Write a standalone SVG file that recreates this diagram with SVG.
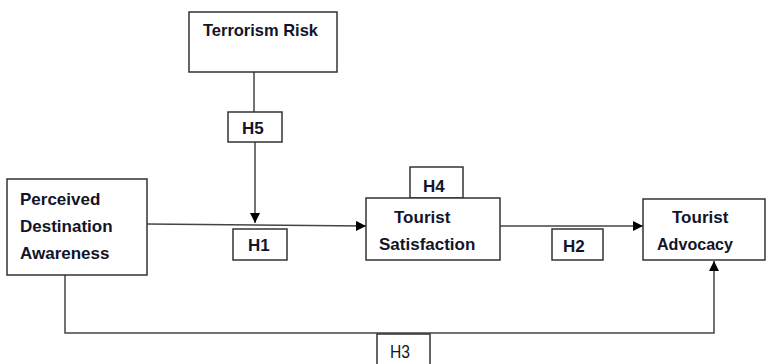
<svg xmlns="http://www.w3.org/2000/svg" width="767" height="364" viewBox="0 0 767 364">
<style>
.box{fill:#fff;stroke:#333;stroke-width:1.5}
.t{font-family:"Liberation Sans",Arial,sans-serif;font-weight:bold;font-size:17px;fill:#141428}
.h3{font-family:"Liberation Sans",Arial,sans-serif;font-size:18px;fill:#141428}
.ln{fill:none;stroke:#444;stroke-width:1.5}
</style>
<defs>
<marker id="arr" viewBox="0 0 10 10" refX="10" refY="5" markerWidth="10" markerHeight="10" markerUnits="userSpaceOnUse" orient="auto">
<path d="M0,0 L10,5 L0,10 Z" fill="#000"/>
</marker>
</defs>
<rect width="767" height="364" fill="#fff"/>
<g id="connectors">
<line class="ln" x1="254" y1="72" x2="254" y2="112"/>
<line class="ln" x1="255" y1="142" x2="255" y2="223" marker-end="url(#arr)"/>
<line class="ln" x1="147" y1="224" x2="366" y2="226" marker-end="url(#arr)"/>
<line class="ln" x1="500" y1="226" x2="643" y2="226" marker-end="url(#arr)"/>
<polyline class="ln" points="65,275 65,333 714,333 714,261" marker-end="url(#arr)"/>
</g>
<g id="terrorism-risk">
<rect class="box" x="189" y="12" width="148" height="60"/>
<text class="t" x="203" y="36" textLength="115" lengthAdjust="spacingAndGlyphs">Terrorism Risk</text>
</g>
<g id="h5">
<rect class="box" x="228" y="112" width="54" height="30"/>
<text class="t" x="242" y="134">H5</text>
</g>
<g id="perceived-destination-awareness">
<rect class="box" x="7" y="179" width="140" height="96"/>
<text class="t" x="20" y="205">Perceived</text>
<text class="t" x="20" y="232">Destination</text>
<text class="t" x="20" y="259">Awareness</text>
</g>
<g id="h1">
<rect class="box" x="233" y="229" width="54" height="31"/>
<text class="t" x="248" y="251">H1</text>
</g>
<g id="h4">
<rect class="box" x="410" y="167" width="53" height="31"/>
<text class="t" x="423" y="192">H4</text>
</g>
<g id="tourist-satisfaction">
<rect class="box" x="366" y="198" width="134" height="62"/>
<text class="t" x="394" y="223">Tourist</text>
<text class="t" x="379" y="250">Satisfaction</text>
</g>
<g id="h2">
<rect class="box" x="552" y="229" width="51" height="31"/>
<text class="t" x="563" y="252">H2</text>
</g>
<g id="tourist-advocacy">
<rect class="box" x="643" y="199" width="122" height="61"/>
<text class="t" x="672" y="223">Tourist</text>
<text class="t" x="657" y="250" textLength="76" lengthAdjust="spacingAndGlyphs">Advocacy</text>
</g>
<g id="h3">
<rect class="box" x="377" y="334" width="53" height="40"/>
<text class="h3" x="390" y="358" textLength="20" lengthAdjust="spacingAndGlyphs">H3</text>
</g>
</svg>
